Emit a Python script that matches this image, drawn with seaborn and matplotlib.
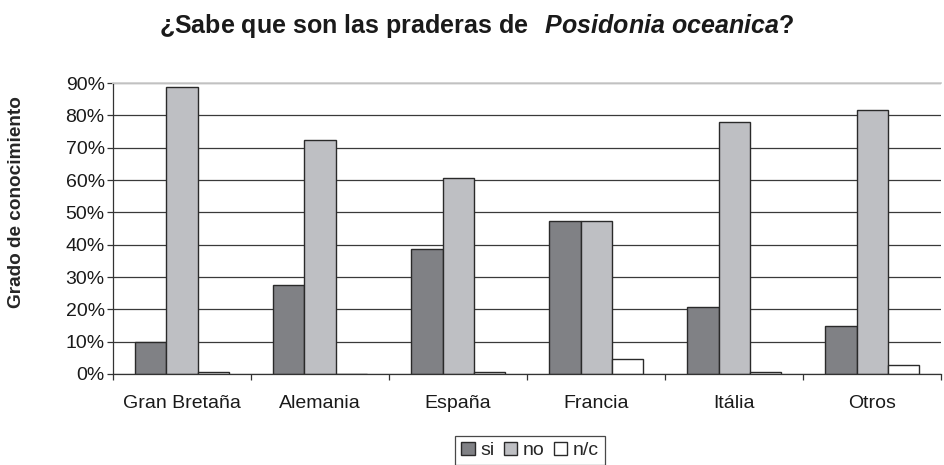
"""Bar chart: knowledge of Posidonia oceanica meadows by country."""

import pandas as pd
import seaborn as sns
import matplotlib.pyplot as plt
from matplotlib.ticker import PercentFormatter, FixedLocator

countries = ["Gran Bretaña", "Alemania", "España", "Francia", "Itália", "Otros"]
answers = ["si", "no", "n/c"]
si_vals = [10.0, 27.5, 38.6, 47.4, 20.6, 14.8]
no_vals = [88.7, 72.4, 60.5, 47.4, 78.0, 81.7]
nc_vals = [0.5, 0.0, 0.5, 4.7, 0.5, 2.7]

df = pd.DataFrame({
    "pais": countries * 3,
    "respuesta": ["si"] * 6 + ["no"] * 6 + ["n/c"] * 6,
    "valor": si_vals + no_vals + nc_vals,
})

sns.set_style("white")
plt.rcParams["font.family"] = ["Liberation Sans", "DejaVu Sans"]
plt.rcParams["mathtext.fontset"] = "custom"
plt.rcParams["mathtext.it"] = "Liberation Sans:bold:italic"
plt.rcParams["mathtext.rm"] = "Liberation Sans:bold"

fig = plt.figure(figsize=(9.45, 4.65), dpi=100)
ax = fig.add_axes([0.1196, 0.1957, 0.8762, 0.6258])

palette = {"si": "#808185", "no": "#bebfc3", "n/c": "#ffffff"}
sns.barplot(
    data=df, x="pais", y="valor", hue="respuesta", hue_order=answers,
    palette=palette, width=0.675, saturation=1, edgecolor="#2a2a2a",
    linewidth=1.0, ax=ax, legend=True,
)

ax.set_ylim(0, 90)
ax.set_xlim(-0.5, 5.5)
ax.yaxis.set_major_locator(FixedLocator(range(0, 91, 10)))
ax.yaxis.set_major_formatter(PercentFormatter(decimals=0))
ax.grid(axis="y", color="#3a3a3a", linewidth=0.9)
ax.set_axisbelow(True)

ax.spines["right"].set_visible(False)
ax.spines["top"].set_color("#d0d0d0")
ax.spines["top"].set_linewidth(1.3)
for s in ["left", "bottom"]:
    ax.spines[s].set_color("#333333")
    ax.spines[s].set_linewidth(0.9)

ax.xaxis.set_minor_locator(FixedLocator([i - 0.5 for i in range(7)]))
ax.tick_params(axis="x", which="major", length=0, pad=15, labelsize=14, colors="#1a1a1a")
ax.tick_params(axis="x", which="minor", length=4, width=0.9, direction="out", color="#333333", bottom=True)
ax.tick_params(axis="y", length=4, width=0.9, direction="out", left=True, pad=2,
               labelsize=14, colors="#1a1a1a", color="#333333")

ax.set_xlabel("")
ax.set_ylabel("Grado de conocimiento", fontsize=13.7, fontweight="bold")
ax.yaxis.set_label_coords(-0.106, 0.59)

fig.text(0.505, 0.929, r"¿Sabe que son las praderas de  $\,Posidonia\ oceanica$?",
         ha="center", va="baseline", fontsize=18, fontweight="bold", color="#1a1a1a")

handles, labels = ax.get_legend_handles_labels()
ax.get_legend().remove()
leg = fig.legend(handles, labels, loc="upper center", bbox_to_anchor=(0.561, 0.0624),
                 ncol=3, frameon=True, fancybox=False, edgecolor="#1a1a1a",
                 fontsize=14, handlelength=0.7, handleheight=0.7,
                 handletextpad=0.3, columnspacing=0.45, borderpad=0.3,
                 borderaxespad=0)
leg.get_frame().set_linewidth(0.9)

fig.savefig("out.png", dpi=100)
